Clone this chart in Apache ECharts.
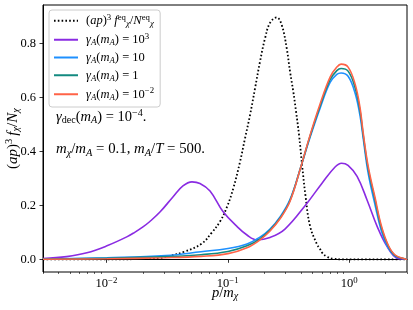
<!DOCTYPE html>
<html><head><meta charset="utf-8">
<script src="https://cdn.jsdelivr.net/npm/echarts@6/dist/echarts.min.js"></script>
<style>html,body{margin:0;padding:0;background:#fff}#c{width:413px;height:310px}</style>
</head><body><div id="c"></div>
<script>
// ---- data ----
const xEq = [0.003,0.01,0.02,0.0276,0.0321,0.0444,0.0609,0.0736,0.0863,0.0985,0.1114,0.126,0.1387,0.1525,0.1677,0.1843,0.2027,0.223,0.2532,0.2784,0.3062,0.326,0.347,0.3654,0.3868,0.4095,0.4358,0.4767,0.5445,0.576,0.598,0.655,0.742,0.9,3.0];
const yEq = [0,0,0.001,0.005,0.011,0.029,0.058,0.098,0.14,0.194,0.265,0.36,0.448,0.534,0.633,0.732,0.818,0.876,0.896,0.868,0.781,0.695,0.62,0.547,0.46,0.35,0.24,0.123,0.055,0.038,0.025,0.01,0.002,0,0];

const xPurple = [0.003,0.0047,0.0069,0.0101,0.0147,0.0171,0.02,0.0228,0.0276,0.0353,0.0427,0.0507,0.059,0.0714,0.0913,0.119,0.144,0.174,0.223,0.296,0.45,0.598,0.766,0.867,0.98,1.164,1.408,1.702,2.058,2.49,3.0];
const yPurple = [0.003,0.010,0.024,0.05,0.083,0.10,0.12,0.14,0.175,0.231,0.272,0.287,0.281,0.253,0.177,0.122,0.09,0.072,0.081,0.112,0.208,0.282,0.342,0.356,0.348,0.307,0.219,0.122,0.047,0.004,0.0];

const xLines = [0.003,0.0101,0.0309,0.0601,0.1004,0.144,0.1843,0.223,0.2696,0.326,0.4018,0.4768,0.5764,0.697,0.7916,0.859,0.9811,1.121,1.232,1.305,1.435,1.639,1.837,2.098,2.396,2.897,3.0];
const yBlue = [0.001,0.006,0.014,0.028,0.04,0.057,0.082,0.112,0.157,0.222,0.345,0.452,0.56,0.655,0.685,0.690,0.678,0.615,0.53,0.45,0.32,0.2,0.108,0.043,0.012,0.001,0];
const yTeal = [0.0005,0.004,0.010,0.017,0.029,0.05,0.076,0.108,0.153,0.218,0.345,0.457,0.568,0.665,0.699,0.707,0.697,0.635,0.548,0.462,0.336,0.218,0.12,0.05,0.014,0.001,0];
const yRed  = [0.0,0.002,0.006,0.011,0.021,0.043,0.072,0.105,0.15,0.215,0.345,0.46,0.575,0.675,0.712,0.723,0.712,0.649,0.56,0.47,0.345,0.227,0.127,0.053,0.016,0.001,0.0];

const xTickValues = [0.01, 0.1, 1];
const xTickExponents = ['\u22122', '\u22121', '0'];
const xMinorTicks = [0.003,0.004,0.005,0.006,0.007,0.008,0.009,0.02,0.03,0.04,0.05,0.06,0.07,0.08,0.09,0.2,0.3,0.4,0.5,0.6,0.7,0.8,0.9,2,3];
const yTickValues = [0, 0.2, 0.4, 0.6, 0.8];
const yTickLabels = ['0.0', '0.2', '0.4', '0.6', '0.8'];

const seriesNames = ['eq', 'g1e3', 'g10', 'g1', 'g1em2'];
const legendTexts = {
  eq: '{n|(}{i|ap}{n|)}{sup|3}{g|}{i|f}{supn|eq}{subi|χ}{n|/}{i|N}{supn|eq}{subi|χ}',
  g1e3: '{i|γ}{subi|A}{n|(}{i|m}{subi|A}{n|) = 10}{sup|3}',
  g10: '{i|γ}{subi|A}{n|(}{i|m}{subi|A}{n|) = 10}',
  g1: '{i|γ}{subi|A}{n|(}{i|m}{subi|A}{n|) = 1}',
  g1em2: '{i|γ}{subi|A}{n|(}{i|m}{subi|A}{n|) = 10}{sup|\u22122}'
};
const colors = { eq: '#000000', g1e3: '#8a2be2', g10: '#1e90ff', g1: '#138a80', g1em2: '#ff6347' };

// ---- build ----
const F = '"Liberation Serif", "DejaVu Serif", serif';
function richStyles(fs) {
  const s = Math.round(fs * 0.7 * 10) / 10;
  return {
    n: { fontFamily: F, fontSize: fs, color: '#000', lineHeight: fs + 3 },
    i: { fontFamily: F, fontSize: fs, fontStyle: 'italic', color: '#000', lineHeight: fs + 3 },
    sup: { fontFamily: F, fontSize: s, color: '#000', lineHeight: s + 1, verticalAlign: 'top' },
    supn: { fontFamily: F, fontSize: s, color: '#000', lineHeight: s + 1, verticalAlign: 'top' },
    subi: { fontFamily: F, fontSize: s, fontStyle: 'italic', color: '#000', lineHeight: s + 1, verticalAlign: 'bottom' },
    subn: { fontFamily: F, fontSize: s, color: '#000', lineHeight: s + 1, verticalAlign: 'bottom' },
    g: { width: 3, fontSize: s, lineHeight: s + 1 }
  };
}
const zip = (xs, ys) => xs.map((x, k) => [x, ys[k]]);
const seriesData = {
  eq: zip(xEq, yEq), g1e3: zip(xPurple, yPurple),
  g10: zip(xLines, yBlue), g1: zip(xLines, yTeal), g1em2: zip(xLines, yRed)
};

const chart = echarts.init(document.getElementById('c'), null, { renderer: 'canvas' });
chart.setOption({
  animation: false,
  backgroundColor: '#fff',
  grid: { left: 43, right: 6, top: 5, bottom: 38, containLabel: false, outerBoundsMode: 'none', show: true, borderColor: '#000', borderWidth: 1, backgroundColor: 'transparent' },
  xAxis: [{
    type: 'log', logBase: 10, min: 0.003, max: 3.0,
    name: '{i|p}{n|/}{i|m}{subi|χ}', nameLocation: 'middle', nameGap: 12, nameMoveOverlap: false,
    nameTextStyle: { rich: richStyles(14.5) },
    axisLine: { show: true, lineStyle: { color: '#000', width: 1 } },
    axisTick: { show: true, length: 3.5, lineStyle: { color: '#000', width: 0.8 }, customValues: xTickValues },
    axisLabel: {
      show: true, margin: 4, customValues: xTickValues,
      formatter: v => { const k = xTickValues.findIndex(t => Math.abs(t - v) / t < 1e-6); return '{n|10}{sup|' + xTickExponents[k] + '}'; },
      rich: richStyles(12.5)
    },
    splitLine: { show: false }, minorTick: { show: false }
  }, {
    type: 'log', logBase: 10, min: 0.003, max: 3.0, position: 'bottom',
    axisLine: { show: false },
    axisTick: { show: true, length: 2, lineStyle: { color: '#000', width: 0.6 }, customValues: xMinorTicks },
    axisLabel: { show: false }, splitLine: { show: false }
  }],
  yAxis: {
    type: 'value', min: -0.047, max: 0.942,
    name: '{n|(}{i|ap}{n|)}{sup|3}{g|}{i|f}{subi|χ}{n|/}{i|N}{subi|χ}', nameLocation: 'middle', nameGap: 21, nameRotate: 90, nameMoveOverlap: false,
    nameTextStyle: { rich: richStyles(15) },
    axisLine: { show: true, lineStyle: { color: '#000', width: 1 } },
    axisTick: { show: true, length: 3.5, lineStyle: { color: '#000', width: 0.8 }, customValues: yTickValues },
    axisLabel: {
      show: true, margin: 7, customValues: yTickValues,
      formatter: v => { const k = yTickValues.findIndex(t => Math.abs(t - v) < 1e-6); return '{n|' + yTickLabels[k] + '}'; },
      rich: richStyles(12.5)
    },
    splitLine: { show: false }
  },
  legend: {
    orient: 'vertical', left: 49, top: 10,
    data: seriesNames,
    itemWidth: 24, itemHeight: 12, itemGap: 3.5,
    padding: [3, 6, 5, 4],
    backgroundColor: 'rgba(255,255,255,0.8)', borderColor: '#cccccc', borderWidth: 1, borderRadius: 3,
    itemStyle: { opacity: 0 },
    formatter: name => '{g| }' + legendTexts[name],
    textStyle: { rich: richStyles(12.5) }
  },
  graphic: [
    { type: 'text', left: 56, top: 108, style: { text: '{i|γ}{subn|dec}{n|(}{i|m}{subi|A}{n|) = 10}{sup|\u22124}{n|.}', rich: richStyles(14.5), fill: '#000' } },
    { type: 'text', left: 56, top: 142, style: { text: '{i|m}{subi|χ}{n|/}{i|m}{subi|A}{n| = 0.1, }{i|m}{subi|A}{n|/}{i|T}{n| = 500.}', rich: richStyles(14.8), fill: '#000' } }
  ],
  series: seriesNames.map(nm => ({
    name: nm, type: 'line', xAxisIndex: 0, yAxisIndex: 0,
    data: seriesData[nm], symbol: 'none', smooth: 0.4,
    lineStyle: nm === 'eq' ? { color: colors[nm], width: 1.8, type: [1.6, 2.2] } : { color: colors[nm], width: 1.6 },
    itemStyle: { color: colors[nm] },
    emphasis: { disabled: true }
  }))
});
</script></body></html>
